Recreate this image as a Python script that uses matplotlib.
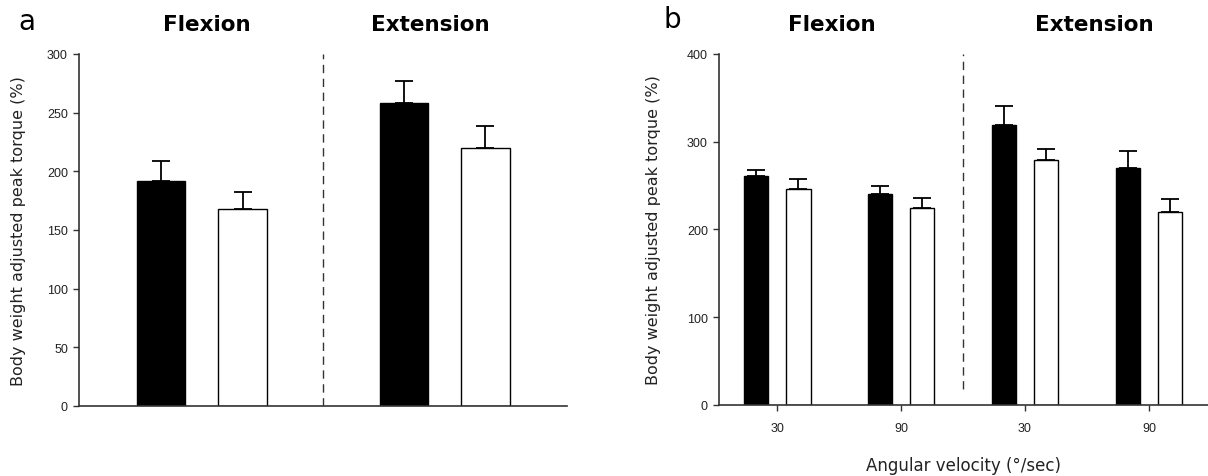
import numpy as np
import matplotlib
matplotlib.use('Agg')
import matplotlib.pyplot as plt

# panel a: overall flexion / extension
grupos_a = ['Flexion', 'Extension']
preto_a = [192, 258]
preto_a_err = [17, 19]
branco_a = [168, 220]
branco_a_err = [14, 19]

# panel b: by angular velocity
velocidades = ['30', '90', '30', '90']
preto_b = [261, 240, 319, 270]
preto_b_err = [7, 9, 22, 20]
branco_b = [246, 224, 279, 220]
branco_b_err = [11, 12, 13, 15]

fig = plt.figure(figsize=(12.08, 4.77), dpi=100)
ax_a = fig.add_axes([0.0654, 0.1468, 0.4036, 0.7379])
ax_b = fig.add_axes([0.5952, 0.1489, 0.4048, 0.7358])

cor_eixo = '#333333'
fonte_tick = 'Liberation Sans'


def estilo(ax):
    ax.spines['top'].set_visible(False)
    ax.spines['right'].set_visible(False)
    for s in ['left', 'bottom']:
        ax.spines[s].set_color(cor_eixo)
        ax.spines[s].set_linewidth(1.2)
    ax.tick_params(axis='y', length=4, width=1, color=cor_eixo,
                   labelsize=9, labelcolor='#222222', pad=4)
    for t in ax.get_yticklabels():
        t.set_family(fonte_tick)


# ---- painel a
x = np.arange(len(grupos_a))
larg = 0.2
desl = 0.168
ax_a.bar(x - desl, preto_a, larg, color='black', edgecolor='black', lw=1)
ax_a.bar(x + desl, branco_a, larg, color='white', edgecolor='black', lw=1)
ax_a.errorbar(x - desl, preto_a, yerr=[np.zeros(2), preto_a_err], fmt='none',
              ecolor='black', elinewidth=1.3, capsize=6.5, capthick=1.3)
ax_a.errorbar(x + desl, branco_a, yerr=[np.zeros(2), branco_a_err], fmt='none',
              ecolor='black', elinewidth=1.3, capsize=6.5, capthick=1.3)
ax_a.axvline(0.5, color='#333333', ls=(0, (6, 4)), lw=1)
ax_a.set_xlim(-0.506, 1.502)
ax_a.set_ylim(0, 300)
ax_a.set_yticks(np.arange(0, 301, 50))
ax_a.set_xticks([])
estilo(ax_a)
ax_a.set_ylabel('Body weight adjusted peak torque (%)', fontsize=11.5,
                color='#222222')
ax_a.yaxis.set_label_coords(-0.109, 0.5)
for xi, g in zip([0.02, 0.94], grupos_a):
    ax_a.text(xi, 1.085, g, transform=ax_a.get_xaxis_transform(),
              ha='center', va='center', fontsize=15.5, fontweight='bold')
fig.text(27 / 1208, 1 - 22 / 477, 'a', fontsize=20, ha='center', va='center')

# ---- painel b
xb = np.arange(len(velocidades))
larg_b = 0.2
desl_b = 0.17
ax_b.bar(xb - desl_b, preto_b, larg_b, color='black', edgecolor='black', lw=1)
ax_b.bar(xb + desl_b, branco_b, larg_b, color='white', edgecolor='black', lw=1)
ax_b.errorbar(xb - desl_b, preto_b, yerr=[np.zeros(4), preto_b_err], fmt='none',
              ecolor='black', elinewidth=1.3, capsize=6.5, capthick=1.3)
ax_b.errorbar(xb + desl_b, branco_b, yerr=[np.zeros(4), branco_b_err], fmt='none',
              ecolor='black', elinewidth=1.3, capsize=6.5, capthick=1.3)
ax_b.axvline(1.5, ymin=0.045, ymax=1.0, color='#333333', ls=(0, (6, 4)), lw=1)
ax_b.set_xlim(-0.468, 3.476)
ax_b.set_ylim(0, 400)
ax_b.set_yticks(np.arange(0, 401, 100))
ax_b.set_xticks(xb)
ax_b.set_xticklabels(velocidades, family=fonte_tick, fontsize=9,
                     color='#222222')
ax_b.tick_params(axis='x', length=4, width=1, color=cor_eixo, pad=8)
estilo(ax_b)
ax_b.set_ylabel('Body weight adjusted peak torque (%)', fontsize=11.5,
                color='#222222')
ax_b.yaxis.set_label_coords(-0.119, 0.5)
ax_b.set_xlabel('Angular velocity (°/sec)', fontsize=12, color='#222222',
                labelpad=16)
for xi, g in zip([0.44, 2.56], ['Flexion', 'Extension']):
    ax_b.text(xi, 1.085, g, transform=ax_b.get_xaxis_transform(),
              ha='center', va='center', fontsize=15.5, fontweight='bold')
fig.text(672 / 1208, 1 - 20 / 477, 'b', fontsize=20, ha='center', va='center')

fig.savefig('out.png', dpi=100)
